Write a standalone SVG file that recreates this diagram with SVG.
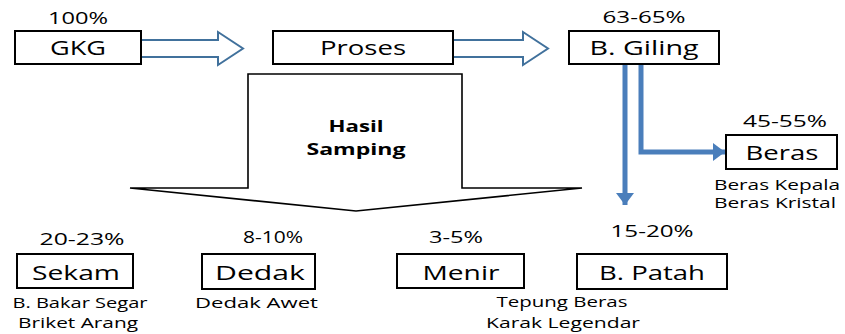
<svg xmlns="http://www.w3.org/2000/svg" width="845" height="334" viewBox="0 0 845 334">
<style>
text{font-family:"Open Sans","Liberation Sans",sans-serif;fill:#000}
.lbl{font-size:20px;text-anchor:middle}
.pct{font-size:16px;text-anchor:middle}
.note{font-size:14px}
.box{fill:#fff;stroke:#000;stroke-width:2}
.hollow{fill:#fff;stroke:#41719C;stroke-width:2;stroke-linejoin:miter}
.blue{fill:none;stroke:#4A7EBB;stroke-width:5}
</style>
<defs>
<marker id="ah" viewBox="0 0 10 10" refX="10" refY="5" markerWidth="2.4" markerHeight="3.6" orient="auto" markerUnits="strokeWidth" preserveAspectRatio="none">
<path d="M0,0 L10,5 L0,10 Z" fill="#4A7EBB"/>
</marker>
</defs>
<g id="connectors">
<path class="hollow" d="M141,40 H218 V32 L243,48.5 L218,65 V57 H141 Z"/>
<path class="hollow" d="M453,40 H523 V32 L548,48.5 L523,65 V57 H453 Z"/>
<path class="blue" d="M625,64 V205" marker-end="url(#ah)"/>
<path class="blue" d="M641,64 V152 H725" marker-end="url(#ah)"/>
</g>
<g id="hasil-samping">
<path d="M248,74 H462 V188 H582 L356,211 L130,188 H248 Z" fill="#fff" stroke="#000" stroke-width="1.6" stroke-linejoin="miter"/>
<text x="356" y="132" font-size="16" font-weight="bold" text-anchor="middle" textLength="55" lengthAdjust="spacingAndGlyphs">Hasil</text>
<text x="356" y="155" font-size="16" font-weight="bold" text-anchor="middle" textLength="99" lengthAdjust="spacingAndGlyphs">Samping</text>
</g>
<g id="gkg">
<text class="pct" x="78" y="24" textLength="60" lengthAdjust="spacingAndGlyphs">100%</text>
<rect class="box" x="15" y="31" width="126" height="33"/>
<text class="lbl" x="78" y="55" textLength="56" lengthAdjust="spacingAndGlyphs">GKG</text>
</g>
<g id="proses">
<rect class="box" x="273" y="31" width="180" height="33"/>
<text class="lbl" x="363" y="55" textLength="86" lengthAdjust="spacingAndGlyphs">Proses</text>
</g>
<g id="b-giling">
<text class="pct" x="644" y="23" textLength="83" lengthAdjust="spacingAndGlyphs">63-65%</text>
<rect class="box" x="569" y="31" width="150" height="33"/>
<text class="lbl" x="644" y="55" textLength="109" lengthAdjust="spacingAndGlyphs">B. Giling</text>
</g>
<g id="beras">
<text class="pct" x="785" y="127" textLength="84" lengthAdjust="spacingAndGlyphs">45-55%</text>
<rect class="box" x="726" y="135" width="111" height="34"/>
<text class="lbl" x="782" y="160" textLength="73" lengthAdjust="spacingAndGlyphs">Beras</text>
<text class="note" x="714" y="190" textLength="126" lengthAdjust="spacingAndGlyphs">Beras Kepala</text>
<text class="note" x="714" y="208" textLength="122" lengthAdjust="spacingAndGlyphs">Beras Kristal</text>
</g>
<g id="sekam">
<text class="pct" x="82" y="245" textLength="85" lengthAdjust="spacingAndGlyphs">20-23%</text>
<rect class="box" x="17" y="254" width="116" height="34"/>
<text class="lbl" x="76" y="280" textLength="88" lengthAdjust="spacingAndGlyphs">Sekam</text>
<text class="note" x="80" y="308" text-anchor="middle" textLength="135" lengthAdjust="spacingAndGlyphs">B. Bakar Segar</text>
<text class="note" x="78" y="328" text-anchor="middle" textLength="120" lengthAdjust="spacingAndGlyphs">Briket Arang</text>
</g>
<g id="dedak">
<text class="pct" x="273" y="243" textLength="60" lengthAdjust="spacingAndGlyphs">8-10%</text>
<rect class="box" x="202" y="254" width="113" height="35"/>
<text class="lbl" x="260" y="280" textLength="90" lengthAdjust="spacingAndGlyphs">Dedak</text>
<text class="note" x="195" y="308" textLength="123" lengthAdjust="spacingAndGlyphs">Dedak Awet</text>
</g>
<g id="menir">
<text class="pct" x="456" y="243" textLength="54" lengthAdjust="spacingAndGlyphs">3-5%</text>
<rect class="box" x="397" y="254" width="127" height="34"/>
<text class="lbl" x="461" y="280" textLength="77" lengthAdjust="spacingAndGlyphs">Menir</text>
</g>
<g id="b-patah">
<text class="pct" x="652" y="237" textLength="83" lengthAdjust="spacingAndGlyphs">15-20%</text>
<rect class="box" x="577" y="254" width="150" height="35"/>
<text class="lbl" x="652" y="280" textLength="106" lengthAdjust="spacingAndGlyphs">B. Patah</text>
<text class="note" x="562" y="307" text-anchor="middle" textLength="131" lengthAdjust="spacingAndGlyphs">Tepung Beras</text>
<text class="note" x="563" y="328" text-anchor="middle" textLength="154" lengthAdjust="spacingAndGlyphs">Karak Legendar</text>
</g>
</svg>
